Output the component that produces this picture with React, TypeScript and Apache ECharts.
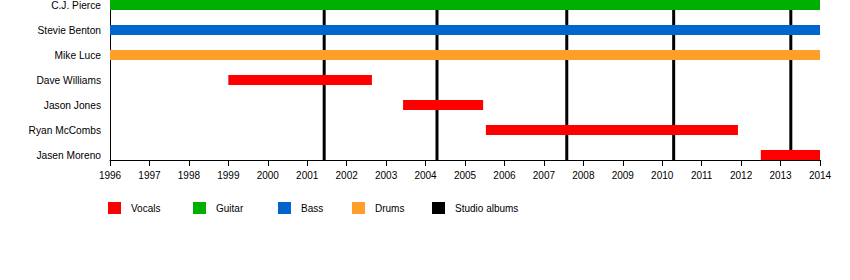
import React, { useEffect, useRef } from "react";
import * as echarts from "echarts";

const members = ["C.J. Pierce", "Stevie Benton", "Mike Luce", "Dave Williams", "Jason Jones", "Ryan McCombs", "Jasen Moreno"];
const memberRole = ["Guitar", "Bass", "Drums", "Vocals", "Vocals", "Vocals", "Vocals"];
const memberStart = [1996, 1996, 1996, 1999.0, 2003.43, 2005.53, 2012.5];
const memberEnd = [2014, 2014, 2014, 2002.64, 2005.46, 2011.92, 2014];
const roles = ["Vocals", "Guitar", "Bass", "Drums"];
const roleColors = ["#ff0000", "#00b000", "#0066cc", "#ff9f2a"];
const albumLabel = "Studio albums";
const albumDates = [2001.43, 2004.29, 2007.58, 2010.29, 2013.26];
const yearMin = 1996;
const yearMax = 2014;
const legendLefts = [108, 193, 278, 352, 432];

const FONT = "'Liberation Sans', Arial, sans-serif";

export default function App() {
  const ref = useRef<HTMLDivElement>(null);
  useEffect(() => {
    if (!ref.current) return;
    const chart = echarts.init(ref.current, null, { renderer: "svg" });

    const barRender = (color: string) => (params: any, api: any) => {
      const s = api.coord([api.value(0), api.value(2)]);
      const e = api.coord([api.value(1), api.value(2)]);
      return {
        type: "rect",
        shape: { x: s[0], y: s[1] - 5, width: e[0] - s[0], height: 10 },
        style: { fill: color },
      };
    };

    const roleSeries = roles.map((role, ri) => ({
      type: "custom",
      name: role,
      xAxisIndex: 1,
      yAxisIndex: 1,
      z: 3,
      itemStyle: { color: roleColors[ri] },
      encode: { x: [0, 1], y: 2 },
      renderItem: barRender(roleColors[ri]),
      data: members
        .map((m, i) => (memberRole[i] === role ? [memberStart[i], memberEnd[i], i] : null))
        .filter((d) => d !== null),
    }));

    const albumSeries = {
      type: "custom",
      name: albumLabel,
      xAxisIndex: 0,
      yAxisIndex: 0,
      z: 1,
      itemStyle: { color: "#000000" },
      encode: { x: 0 },
      renderItem: (params: any, api: any) => {
        const p = api.coord([api.value(0), 0]);
        const cs = params.coordSys;
        return {
          type: "line",
          shape: { x1: p[0], y1: cs.y, x2: p[0], y2: cs.y + cs.height },
          style: { stroke: "#000000", lineWidth: 3 },
        };
      },
      data: albumDates.map((d) => [d]),
    };

    const legendNames = [...roles, albumLabel];
    const legends = legendNames.map((name, i) => ({
      data: [name],
      left: legendLefts[i],
      top: 202,
      padding: 0,
      icon: "rect",
      itemWidth: 13,
      itemHeight: 12,
      selectedMode: false,
      textStyle: { fontFamily: FONT, fontSize: 10, color: "#000", padding: [0, 0, 0, 5] },
    }));

    chart.setOption({
      animation: false,
      backgroundColor: "#ffffff",
      legend: legends,
      grid: [
        { left: 110, width: 710, top: 0, height: 160, containLabel: false },
        { left: 110, width: 710, top: 5, height: 150, containLabel: false },
      ],
      xAxis: [
        {
          type: "value",
          gridIndex: 0,
          min: yearMin,
          max: yearMax,
          interval: 1,
          axisLine: { show: true, lineStyle: { color: "#000", width: 1 } },
          axisTick: { show: true, length: 6, lineStyle: { color: "#000" } },
          splitLine: { show: false },
          axisLabel: {
            formatter: (v: number) => String(v),
            fontFamily: FONT,
            fontSize: 10,
            color: "#000",
            margin: 10,
          },
        },
        {
          type: "value",
          gridIndex: 1,
          min: yearMin,
          max: yearMax,
          show: false,
        },
      ],
      yAxis: [
        {
          type: "value",
          gridIndex: 0,
          min: 0,
          max: 1,
          axisLine: { show: true, lineStyle: { color: "#000", width: 1 } },
          axisTick: { show: false },
          axisLabel: { show: false },
          splitLine: { show: false },
        },
        {
          type: "category",
          gridIndex: 1,
          data: members,
          inverse: true,
          boundaryGap: false,
          axisLine: { show: false },
          axisTick: { show: false },
          splitLine: { show: false },
          axisLabel: { fontFamily: FONT, fontSize: 10.2, color: "#000", margin: 9 },
        },
      ],
      series: [albumSeries, ...roleSeries],
    });
    return () => chart.dispose();
  }, []);
  return (
    <div
      ref={ref}
      style={{ position: "absolute", left: 0, top: 0, width: 850, height: 280, background: "#fff" }}
    />
  );
}
